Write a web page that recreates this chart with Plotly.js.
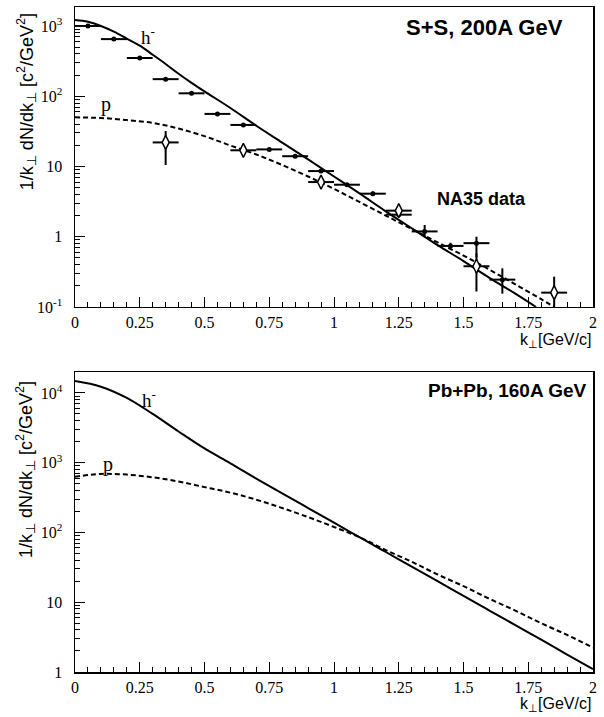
<!DOCTYPE html>
<html>
<head>
<meta charset="utf-8">
<script src="https://cdn.plot.ly/plotly-3.0.1.min.js"></script>
<style>html,body{margin:0;padding:0;background:#fff;}#chart{width:604px;height:717px;}</style>
</head>
<body>
<div id="chart"></div>
<script>
// ---- Data ----
// Top panel: S+S, 200A GeV, model curves
const kTopH = [0,0.05,0.1,0.15,0.2,0.25,0.3,0.35,0.4,0.45,0.5,0.6,0.7,0.8,0.9,1.0,1.1,1.2,1.3,1.4,1.5,1.6,1.7,1.78];
const hTop  = [1220,1150,1000,830,661,525,390,288,209,155,117,68,38,21.9,12.6,7.2,4.1,2.3,1.32,0.76,0.45,0.26,0.155,0.1];
const kTopP = [0,0.1,0.2,0.3,0.4,0.5,0.6,0.7,0.8,0.9,1.0,1.1,1.2,1.3,1.4,1.5,1.6,1.7,1.8,1.85];
const pTop  = [50,49,45.7,41.7,34.7,27,19.9,14.8,10.5,7.2,4.8,3.1,2.0,1.29,0.83,0.54,0.34,0.21,0.129,0.1];

// NA35 data: h- (filled circles)
const kDataH   = [0.05,0.15,0.25,0.35,0.45,0.55,0.65,0.75,0.85,0.95,1.05,1.15,1.25,1.35,1.45,1.55,1.65];
const hData    = [1000,650,350,175,110,56,39,17.5,14,8.6,5.5,4.1,2.06,1.19,0.74,0.81,0.245];
const hErrUp   = [30,20,10,6,4,2,1.5,0.7,0.6,0.4,0.3,0.3,0.15,0.28,0.08,0.19,0.11];
const hErrDown = [30,20,10,6,4,2,1.5,0.7,0.6,0.4,0.3,0.3,0.15,0.2,0.08,0.3,0.09];
// NA35 data: p (open diamonds)
const kDataP   = [0.35,0.65,0.95,1.25,1.55,1.85];
const pData    = [22,17,6.0,2.35,0.38,0.16];
const pErrUp   = [10,0.8,0.3,0.15,0.2,0.11];
const pErrDown = [11.5,0.8,0.3,0.15,0.214,0.06];
const binHalf  = 0.05;

// Bottom panel: Pb+Pb, 160A GeV, model curves
const kBot = [0,0.1,0.2,0.3,0.4,0.5,0.6,0.7,0.8,0.9,1.0,1.1,1.2,1.3,1.4,1.5,1.6,1.7,1.8,1.9,2.0];
const hBot = [14800,12300,8500,5000,2800,1600,980,590,363,224,138,85,52.5,32.4,20,12.3,7.6,4.7,2.9,1.78,1.1];
const pBot = [630,690,675,617,537,447,372,295,224,166,120,85,56,38,25,17,11.2,7.6,5.0,3.4,2.24];

// Tick labels
const xTickVals = [0,0.25,0.5,0.75,1,1.25,1.5,1.75,2];
const xTickText = ['0','0.25','0.5','0.75','1','1.25','1.5','1.75','2'];
const yTopVals = [0.1,1,10,100,1000];
const yTopText = ['10<sup>-1</sup>','1','10','10<sup>2</sup>','10<sup>3</sup>'];
const yBotVals = [1,10,100,1000,10000];
const yBotText = ['1','10','10<sup>2</sup>','10<sup>3</sup>','10<sup>4</sup>'];

// ---- Styles ----
const serif = 'Liberation Serif, Times New Roman, serif';
const sans = 'Liberation Sans, Arial, Helvetica, sans-serif';
function minorLog(lo, hi){ const v=[]; for(let e=lo;e<hi;e++){for(let d=2;d<=9;d++) v.push(d*Math.pow(10,e));} return v; }
const xMinor = []; for (let i=0;i<=40;i++) xMinor.push(i*0.05);

const solid = {color:'#000', width:2, shape:'spline'};
const dashed = {color:'#000', width:2, dash:'5px,3px', shape:'spline'};

const traces = [
  {x:kTopH, y:hTop, mode:'lines', line:solid, xaxis:'x', yaxis:'y', hoverinfo:'skip'},
  {x:kTopP, y:pTop, mode:'lines', line:dashed, xaxis:'x', yaxis:'y', hoverinfo:'skip'},
  {x:kDataH, y:hData, mode:'markers', xaxis:'x', yaxis:'y',
   marker:{symbol:'circle', size:5, color:'#000'},
   error_x:{type:'constant', value:binHalf, thickness:2, width:0, color:'#000'},
   error_y:{type:'data', symmetric:false, array:hErrUp, arrayminus:hErrDown, thickness:2, width:0, color:'#000'}},
  {x:kDataP, y:pData, mode:'markers', xaxis:'x', yaxis:'y',
   marker:{symbol:'diamond-tall', size:10, color:'#fff', line:{color:'#000', width:1.5}},
   error_x:{type:'constant', value:binHalf, thickness:2, width:0, color:'#000'},
   error_y:{type:'data', symmetric:false, array:pErrUp, arrayminus:pErrDown, thickness:2, width:0, color:'#000'}},
  {x:kBot, y:hBot, mode:'lines', line:solid, xaxis:'x2', yaxis:'y2', hoverinfo:'skip'},
  {x:kBot, y:pBot, mode:'lines', line:dashed, xaxis:'x2', yaxis:'y2', hoverinfo:'skip'}
];

function xAxis(domainAnchor){
  return {
    range:[0,2], anchor:domainAnchor, showgrid:false, zeroline:false,
    showline:true, linecolor:'#000', linewidth:1.5, mirror:true,
    ticks:'inside', ticklen:10, tickwidth:1, tickcolor:'#000',
    tickmode:'array', tickvals:xTickVals, ticktext:xTickText,
    tickfont:{family:serif, size:16, color:'#000'},
    minor:{tickmode:'array', tickvals:xMinor, ticks:'inside', ticklen:5, tickwidth:1, tickcolor:'#000'}
  };
}
function yAxis(range, vals, text, minorVals, domain, anchor){
  return {
    type:'log', range:range, domain:domain, anchor:anchor, showgrid:false, zeroline:false,
    showline:true, linecolor:'#000', linewidth:1.5, mirror:true,
    ticks:'inside', ticklen:10, tickwidth:1, tickcolor:'#000',
    tickmode:'array', tickvals:vals, ticktext:text, ticklabelstandoff:8,
    tickfont:{family:serif, size:16, color:'#000'},
    minor:{tickmode:'array', tickvals:minorVals, ticks:'inside', ticklen:5, tickwidth:1, tickcolor:'#000'}
  };
}

const yTitle = '1/k<sub>⊥</sub> dN/dk<sub>⊥</sub> [c<sup>2</sup>/GeV<sup>2</sup>]';
const xTitle = 'k<sub>⊥</sub>[GeV/c]';

const ann = (text, x, y, font, extra) => Object.assign({text:text, x:x, y:y, xref:'paper', yref:'paper',
  xanchor:'center', yanchor:'middle', showarrow:false, font:font}, extra||{});
const boldFont = s => ({family:sans, size:s, color:'#000', weight:'bold'});
const serifFont = s => ({family:serif, size:s, color:'#000'});
const sansFont = s => ({family:sans, size:s, color:'#000'});

const layout = {
  width:604, height:717, showlegend:false,
  paper_bgcolor:'#fff', plot_bgcolor:'#fff',
  margin:{l:75, r:11, t:7, b:45},
  xaxis: xAxis('y'),
  yaxis: yAxis([-1, 3.27], yTopVals, yTopText, minorLog(-1,4), [0.5489,1], 'x'),
  xaxis2: xAxis('y2'),
  yaxis2: yAxis([0, 4.30], yBotVals, yBotText, minorLog(0,5), [0,0.4511], 'x2'),
  annotations:[
    ann('<b>S+S, 200A GeV</b>', 0.7915, 0.9699, boldFont(22)),
    ann('<b>NA35 data</b>', 0.7838, 0.7113, boldFont(18)),
    ann('<b>Pb+Pb, 160A GeV</b>', 0.992, 0.424, boldFont(19), {xanchor:'right'}),
    ann('h<sup>-</sup>', 0.141, 0.957, serifFont(19)),
    ann('p', 0.0608, 0.853, serifFont(20)),
    ann('h<sup>-</sup>', 0.143, 0.4105, serifFont(19)),
    ann('p', 0.0637, 0.3125, serifFont(20)),
    ann(xTitle, 1.0, 0.4992, sansFont(16), {xanchor:'right'}),
    ann(xTitle, 1.0, -0.0496, sansFont(16), {xanchor:'right'}),
    ann(yTitle, -0.0945, 0.857, sansFont(18), {textangle:-90}),
    ann(yTitle, -0.0945, 0.3038, sansFont(18), {textangle:-90})
  ]
};

Plotly.newPlot('chart', traces, layout, {staticPlot:true, displayModeBar:false});
</script>
</body>
</html>
